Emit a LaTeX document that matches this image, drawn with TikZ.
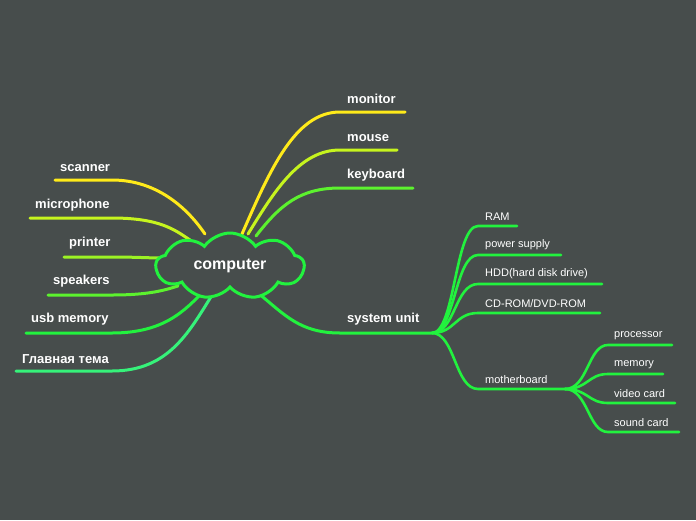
\documentclass[tikz,border=0pt]{standalone}
\usepackage{fontspec}
\setmainfont{Liberation Sans}
\usetikzlibrary{shapes.symbols}
\definecolor{bg}{HTML}{474D4C}
\definecolor{cY}{HTML}{FFEA1A}
\definecolor{cYG}{HTML}{C6F41E}
\definecolor{cLG}{HTML}{9CF224}
\definecolor{cG1}{HTML}{5CF22E}
\definecolor{cG}{HTML}{22F23E}
\definecolor{cM}{HTML}{36F27A}
\tikzset{
  br/.style={line width=3pt,line cap=round},
  sb/.style={line width=2.6pt,line cap=round},
  lab/.style={text=white,font=\bfseries\fontsize{13}{14}\selectfont,inner sep=0pt,anchor=south west},
  slab/.style={text=white,font=\fontsize{11}{12}\selectfont,inner sep=0pt,anchor=south west},
}
\begin{document}
\begin{tikzpicture}[x=1pt,y=-1pt]
\fill[bg] (0,0) rectangle (696,520);
\useasboundingbox (0,0) rectangle (696,520);
% left branches
\coordinate (c1) at (205,234); \coordinate (s1) at (55,180); \coordinate (e1) at (112,180);
\coordinate (c2) at (190,240); \coordinate (s2) at (30,218); \coordinate (e2) at (112,218);
\coordinate (c3) at (162,258); \coordinate (s3) at (64,257); \coordinate (e3) at (112,257);
\coordinate (c4) at (178,286); \coordinate (s4) at (48,295); \coordinate (e4) at (112,295);
\coordinate (c5) at (205,290); \coordinate (s5) at (26,333); \coordinate (e5) at (112,333);
\coordinate (c6) at (214,292); \coordinate (s6) at (16,371); \coordinate (e6) at (112,371);
\draw[br,cY] (s1)--(e1) .. controls (160,180) and (190,212) .. (c1);
\draw[br,cYG] (s2)--(e2) .. controls (160,218) and (175,230) .. (c2);
\draw[br,cLG] (s3)--(e3) .. controls (135,257) and (150,258) .. (c3);
\draw[br,cG1] (s4)--(e4) .. controls (150,295) and (165,290) .. (c4);
\draw[br,cG] (s5)--(e5) .. controls (165,333) and (185,310) .. (c5);
\draw[br,cM] (s6)--(e6) .. controls (170,371) and (190,330) .. (c6);
\node[lab] (t1) at (60,172) {scanner};
\node[lab] (t2) at (35,211) {microphone};
\node[lab] (t3) at (69,249) {printer};
\node[lab] (t4) at (53,287) {speakers};
\node[lab] (t5) at (31,325) {usb memory};
\node[lab] (t6) at (22,364) {Главная тема};
% right top
\coordinate (d1) at (242,234); \coordinate (m1) at (340,112); \coordinate (f1) at (405,112);
\coordinate (d2) at (248,234); \coordinate (m2) at (340,150); \coordinate (f2) at (397,150);
\coordinate (d3) at (256,236); \coordinate (m3) at (340,188); \coordinate (f3) at (413,188);
\coordinate (d4) at (258,293); \coordinate (m4) at (340,333); \coordinate (f4) at (432,333);
\draw[br,cY] (d1) .. controls (270,170) and (295,112) .. (m1) -- (f1);
\draw[br,cYG] (d2) .. controls (275,190) and (300,150) .. (m2) -- (f2);
\draw[br,cG1] (d3) .. controls (280,205) and (300,188) .. (m3) -- (f3);
\draw[br,cG] (d4) .. controls (285,315) and (300,333) .. (m4) -- (f4);
\node[lab] (u1) at (347,104) {monitor};
\node[lab] (u2) at (347,142) {mouse};
\node[lab] (u3) at (347,181) {keyboard};
\node[lab] (u4) at (347,325) {system unit};
% system unit subbranches
\foreach \y/\x/\t/\n in {226/517/{RAM}/r1, 255/561/{power supply}/r2, 284/602/{HDD(hard disk drive)}/r3, 313/600/{CD-ROM/DVD-ROM}/r4, 389/565/{motherboard}/r5}{
  \coordinate (\n a) at (478,\y); \coordinate (\n b) at (\x,\y);
  \draw[sb,cG] (f4) .. controls (455,333) and (455,\y) .. (\n a) -- (\n b);
  \node[slab] (\n t) at (485,\y-5) {\t};
}
\foreach \y/\x/\t/\n in {345/672/{processor}/q1, 374/663/{memory}/q2, 403/675/{video card}/q3, 432/679/{sound card}/q4}{
  \coordinate (\n a) at (608,\y); \coordinate (\n b) at (\x,\y);
  \draw[sb,cG] (r5b) .. controls (588,389) and (588,\y) .. (\n a) -- (\n b);
  \node[slab] (\n t) at (614,\y-5) {\t};
}
\node[cloud,cloud puffs=9,cloud puff arc=110,aspect=2.4,draw=cG,line width=3pt,fill=bg,
  minimum width=148pt,minimum height=66pt,text=white,font=\bfseries\fontsize{16}{18}\selectfont] (comp) at (230,266) {computer};
\end{tikzpicture}
\end{document}
